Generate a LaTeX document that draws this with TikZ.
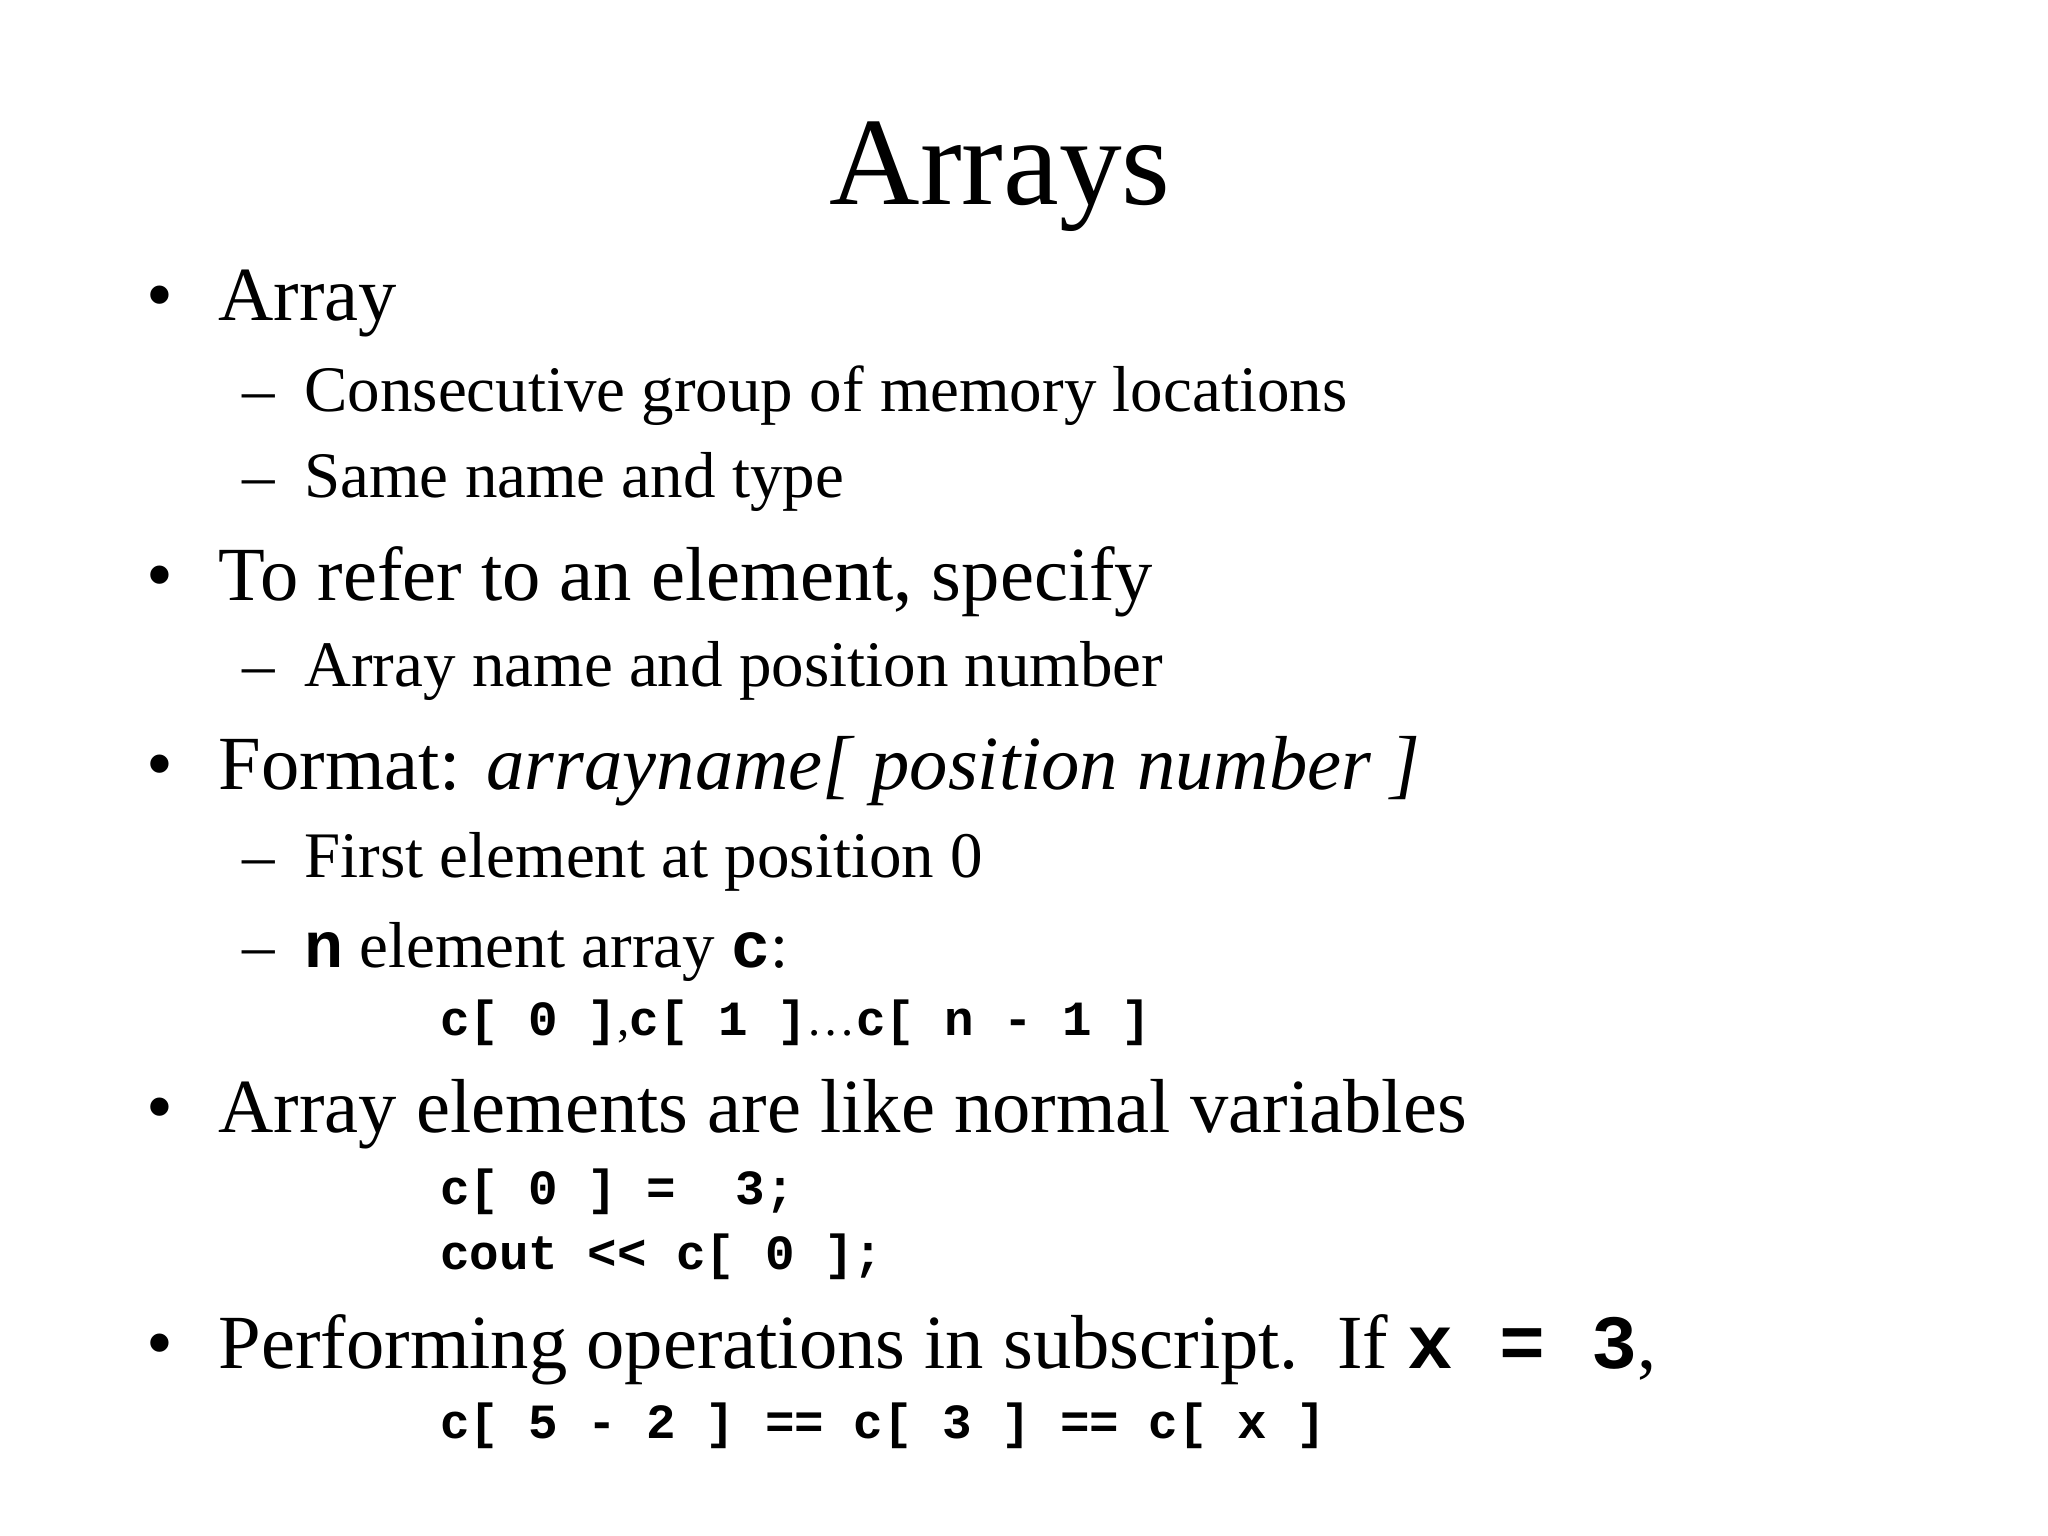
\documentclass[tikz,border=0pt]{standalone}
\usepackage{fontspec}
\setmainfont{Liberation Serif}
\setmonofont{Liberation Mono}
\begin{document}
\begin{tikzpicture}[x=0.01cm,y=-0.01cm,
  t/.style={anchor=base west,inner sep=0pt},
  lone/.style={t,font=\fontsize{16.5}{18}\selectfont},
  ltwo/.style={t,font=\fontsize{14}{16}\selectfont},
  code/.style={t,font=\fontsize{10.6}{12}\selectfont\ttfamily\bfseries}]
\fill[white] (0,0) rectangle (1552,1164);
\node[t,font=\fontsize{27}{30}\selectfont] (title) at (628,155) {Arrays};
\foreach \y/\n in {243/b1,455/b2,598/b3,858/b4,1037/b5}
  \node[lone] (\n) at (110,\y) {\textbullet};
\foreach \y/\n in {312/d1,377/d2,520/d3,665/d4,733/d5}
  \node[ltwo] (\n) at (183,\y) {–};
\node[lone] (a1) at (165,243) {Array};
\node[ltwo] (a2) at (230,312) {Consecutive group of memory locations};
\node[ltwo] (a3) at (230,377) {Same name and type};
\node[lone] (a4) at (165,455) {To refer to an element, specify};
\node[ltwo] (a5) at (230,520) {Array name and position number};
\node[lone] (a6) at (165,598) {Format: \textit{arrayname[ position number ]}};
\node[ltwo] (a7) at (230,665) {First element at position 0};
\node[ltwo] (a8) at (230,733) {{\ttfamily\bfseries n} element array {\ttfamily\bfseries c}:};
\node[code] (c1) at (333,785) {c[~0~]{\rmfamily\mdseries,}c[~1~]{\rmfamily\mdseries…}c[~n~-~1~]};
\node[lone] (a9) at (165,858) {Array elements are like normal variables};
\node[code] (c2) at (333,913) {c[~0~]~=~~3;};
\node[code] (c3) at (333,962) {cout~<<~c[~0~];};
\node[lone] (a10) at (165,1037) {Performing operations in subscript.\ \ If {\ttfamily\bfseries x~=~3},};
\node[code] (c4) at (333,1090) {c[~5~-~2~]~==~c[~3~]~==~c[~x~]};
\end{tikzpicture}
\end{document}
